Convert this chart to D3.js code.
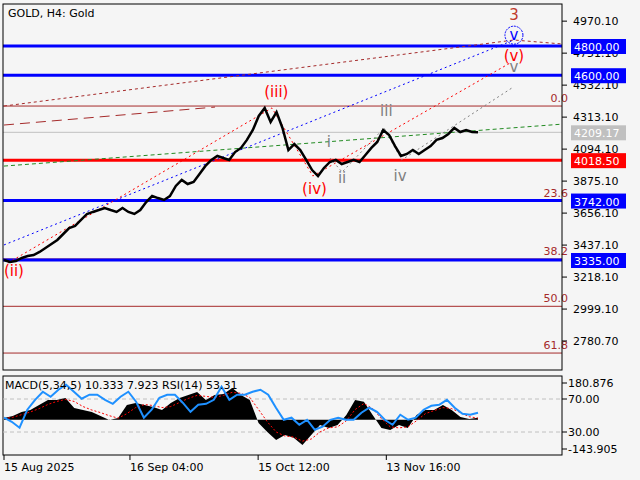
<!DOCTYPE html>
<html><head><meta charset="utf-8">
<script src="https://cdn.jsdelivr.net/npm/d3@7"></script>
<style>body{margin:0;background:#f5f5f5}svg{display:block}text{font-family:"DejaVu Sans",sans-serif}</style>
</head><body><svg id="c" width="640" height="480"></svg>
<script>
// closes, sampled evenly from first bar to last bar
const closes = [3335,3321,3328,3349,3362,3369,3390,3417,3445,3472,3513,3554,3568,3609,3650,3664,3677,3691,3677,3664,3691,3664,3650,3677,3732,3773,3759,3746,3773,3842,3883,3855,3869,3924,3979,4020,4047,4033,4020,4074,4102,4157,4225,4321,4376,4280,4348,4239,4088,4129,4088,4020,3951,3910,3965,4006,4020,3992,4006,4020,4006,4054,4102,4143,4225,4191,4115,4047,4061,4088,4061,4088,4115,4157,4170,4198,4239,4211,4225,4211,4209.17];
const rsi = [47.3,42.4,35.2,57,69,78.8,72.7,81.2,87.3,78.8,70.3,75.2,75.2,69,64.2,72.7,78.8,66.7,47.3,57,71.5,75.2,75.2,65.5,54.5,63,64.2,69,84.8,69,75.2,75.2,78.8,81.2,75.2,59.4,44.8,47.3,38.8,44.8,32.7,36.4,44.8,47.3,44.8,44.8,53.3,59.4,54.5,44.8,38.8,50.9,44.8,47.3,57,61.8,63,69,59.4,52.1,50.9,53.31];
const macd = [9,19,38,48,73,97,97,107,58,48,38,19,-1,9,73,83,73,63,48,83,107,122,137,97,122,127,156,122,97,-16,-60,-99,-75,-89,-124,-75,-26,-40,-26,24,97,88,24,-40,-50,-26,-40,24,48,48,73,48,14,4,10.333];
const signal = [5,12,25,38,55,75,90,100,90,65,48,35,20,8,30,60,75,70,60,65,85,105,120,115,110,120,135,130,110,50,-10,-60,-80,-85,-105,-95,-60,-40,-35,-5,50,80,55,5,-35,-40,-35,-5,30,45,60,55,35,15,7.923];
const blueLevels = [4800, 4600, 3742, 3335];
const redLevel = 4018.5, lastPrice = 4209.17;
const fibLevels = [4389, 3742, 3342, 3018, 2698];
const fibNames = ["0.0","23.6","38.2","50.0","61.8"];
const priceTicks = [4970.10,4751.10,4532.10,4313.10,4094.10,3875.10,3656.10,3437.10,3218.10,2999.10,2780.70];
const dateIdx = [0,22.8,46,69.2];
const dateLabels = ["15 Aug 2025","16 Sep 04:00","15 Oct 12:00","13 Nov 16:00"];
// trend / wave lines as [barIndex, price]
const brownDot = [[0,4389],[92.3,4841],[101,4814]];
const brownDash = [[0,4259],[38.2,4382]];
const greenDash = [[0,3978],[101,4265]];
const blueDot = [[0,3438],[92.3,4841]];
const redWave = [[0.7,3314],[48.5,4376],[55.9,3910],[91.9,4690]];
const grayWave = [[59,4033],[61.2,3937],[68.8,4239],[72,4020],[91.9,4512]];
const labels = [
  {t:"3",i:92.3,p:4975,c:"#c0392b"},{t:"v",i:92.3,p:4840,c:"#0000ff",circ:true},
  {t:"(v)",i:92.3,p:4695,c:"#ff0000"},{t:"v",i:92.3,p:4625,c:"#808080"},
  {t:"(iii)",i:49.3,p:4450,c:"#ff0000"},{t:"(iv)",i:56.2,p:3785,c:"#ff0000"},
  {t:"(ii)",i:1.8,p:3225,c:"#ff0000"},{t:"i",i:58.8,p:4108,c:"#808080"},
  {t:"ii",i:61.2,p:3862,c:"#808080"},{t:"iii",i:69.2,p:4323,c:"#808080"},
  {t:"iv",i:71.7,p:3875,c:"#808080"}];

const svg = d3.select("#c");
const L = 3, R = 562, T = 4, B = 370, ST = 376, SB = 455;
const x = d3.scaleLinear().domain([0,101]).range([4,R]);
const xc = d3.scaleLinear().domain([0,closes.length-1]).range([4,478]);
const y = d3.scaleLinear().domain([3335,4800]).range([260,46]);
svg.append("clipPath").attr("id","cp").append("rect").attr("x",L).attr("y",T).attr("width",R-L).attr("height",B-T);
const g = svg.append("g").attr("clip-path","url(#cp)");

svg.append("text").attr("x",8).attr("y",17).attr("font-size",11).text("GOLD, H4:  Gold");

fibLevels.forEach((f,k)=>{
  g.append("line").attr("x1",L).attr("x2",R).attr("y1",y(f)).attr("y2",y(f)).attr("stroke","#a52a2a").attr("stroke-width",1);
  svg.append("text").attr("x",568).attr("y",y(f)-4).attr("text-anchor","end").attr("font-size",11).attr("fill","#a52a2a").text(fibNames[k]);
});
g.append("line").attr("x1",L).attr("x2",R).attr("y1",y(lastPrice)).attr("y2",y(lastPrice)).attr("stroke","#c0c0c0");
blueLevels.forEach(b=>g.append("line").attr("x1",L).attr("x2",R).attr("y1",y(b)).attr("y2",y(b)).attr("stroke","#0000ff").attr("stroke-width",3));
g.append("line").attr("x1",L).attr("x2",R).attr("y1",y(redLevel)).attr("y2",y(redLevel)).attr("stroke","#ff0000").attr("stroke-width",3);

const ln = d3.line().x(d=>x(d[0])).y(d=>y(d[1]));
const dash = (pts,col,da)=>g.append("path").attr("d",ln(pts)).attr("fill","none").attr("stroke",col).attr("stroke-width",1).attr("stroke-dasharray",da);
dash(brownDot,"#a52a2a","3,3");
dash(brownDash,"#a52a2a","10,6");
dash(greenDash,"#228b22","4,3");
dash(blueDot,"#0000ff","2,3");
dash(redWave,"#ff0000","2,3");
dash(grayWave,"#808080","2,3");

g.append("path").attr("d",d3.line().x((d,i)=>xc(i)).y(d=>y(d))(closes)).attr("fill","none").attr("stroke","#000").attr("stroke-width",2.5);

labels.forEach(l=>{
  svg.append("text").attr("x",x(l.i)).attr("y",y(l.p)).attr("text-anchor","middle").attr("font-size",15).attr("fill",l.c).text(l.t);
  if(l.circ) svg.append("circle").attr("cx",x(l.i)).attr("cy",y(l.p)-5).attr("r",9).attr("fill","none").attr("stroke","#0000ff").attr("stroke-dasharray","2,1");
});

svg.append("rect").attr("x",L).attr("y",T).attr("width",R-L).attr("height",B-T).attr("fill","none").attr("stroke","#000");
svg.append("rect").attr("x",L).attr("y",ST).attr("width",R-L).attr("height",SB-ST).attr("fill","none").attr("stroke","#000");

priceTicks.forEach(p=>{
  svg.append("line").attr("x1",R).attr("x2",R+5).attr("y1",y(p)).attr("y2",y(p)).attr("stroke","#000");
  svg.append("text").attr("x",R+11).attr("y",y(p)+4).attr("font-size",11).text(p.toFixed(2));
});
const tag = (p,bg,fg)=>{
  svg.append("rect").attr("x",R+9).attr("y",y(p)-7).attr("width",55).attr("height",15).attr("fill",bg);
  svg.append("text").attr("x",R+12).attr("y",y(p)+5).attr("font-size",11).attr("fill",fg).text(p.toFixed(2));
};
blueLevels.forEach(b=>tag(b,"#0000ff","#fff"));
tag(lastPrice,"#c0c0c0","#fff");
tag(redLevel,"#ff0000","#fff");

const xs = d3.scaleLinear().domain([0,macd.length-1]).range([4,478]);
const xr = d3.scaleLinear().domain([0,rsi.length-1]).range([4,478]);
const ym = d3.scaleLinear().domain([-143.905,180.876]).range([449,383]);
const yr = d3.scaleLinear().domain([30,70]).range([432,399]);
const sg = svg.append("g");
[70,30].forEach(v=>sg.append("line").attr("x1",L).attr("x2",R).attr("y1",yr(v)).attr("y2",yr(v)).attr("stroke","#c0c0c0").attr("stroke-dasharray","4,3"));
sg.append("path").attr("d",d3.area().x((d,i)=>xs(i)).y0(ym(0)).y1(d=>ym(d))(macd)).attr("fill","#000");
sg.append("path").attr("d",d3.line().x((d,i)=>xs(i)).y(d=>ym(d))(signal)).attr("fill","none").attr("stroke","#ff0000").attr("stroke-dasharray","2,2");
sg.append("path").attr("d",d3.line().x((d,i)=>xr(i)).y(d=>yr(d))(rsi)).attr("fill","none").attr("stroke","#1e90ff").attr("stroke-width",2);
svg.append("text").attr("x",5).attr("y",389).attr("font-size",11).text("MACD(5,34,5) 10.333 7.923 RSI(14) 53.31");
[[ym(180.876),"180.876"],[yr(70),"70.00"],[yr(30),"30.00"],[ym(-143.905),"-143.905"]].forEach(([py,t])=>{
  svg.append("line").attr("x1",R).attr("x2",R+5).attr("y1",py).attr("y2",py).attr("stroke","#000");
  svg.append("text").attr("x",R+6).attr("y",py+4).attr("font-size",11).text(t);
});

dateIdx.forEach((d,k)=>{
  svg.append("line").attr("x1",x(d)).attr("x2",x(d)).attr("y1",SB).attr("y2",SB+5).attr("stroke","#000");
  svg.append("text").attr("x",x(d)).attr("y",471).attr("font-size",11).text(dateLabels[k]);
});
</script></body></html>
